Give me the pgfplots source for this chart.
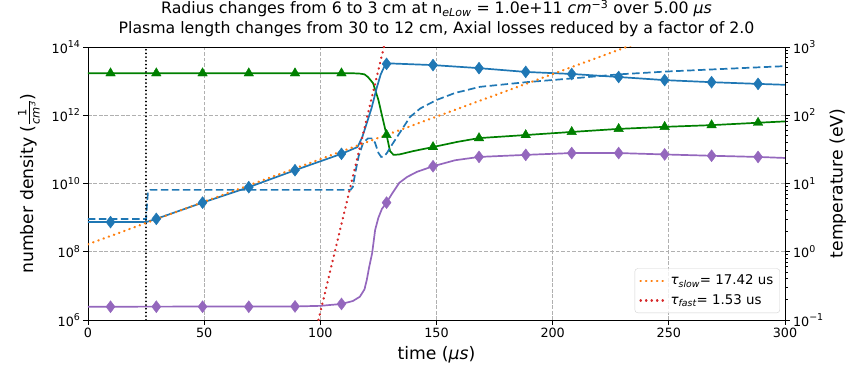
\documentclass[border=0pt]{standalone}
\usepackage{pgfplots}
\pgfplotsset{compat=1.18}
\usepackage{fontspec}
\setmainfont{DejaVu Sans}

\definecolor{tabblue}{HTML}{1F77B4}
\definecolor{taborange}{HTML}{FF7F0E}
\definecolor{tabred}{HTML}{D62728}
\definecolor{tabpurple}{HTML}{9467BD}
\definecolor{mplgreen}{HTML}{008000}
\definecolor{gridgray}{HTML}{B0B0B0}

% power-of-ten tick labels set in the text font
\newcommand{\tenpow}[1]{10\raisebox{0.8ex}{\fontsize{9.5}{9.5}\selectfont #1}}
\newcommand{\tickfont}{\fontsize{12.8}{15}\selectfont}
\newcommand{\labelfont}{\fontsize{17.3}{20}\selectfont}

\pgfplotsset{
  frame/.style={
    at={(0,0)}, anchor=south west, scale only axis,
    width=697bp, height=273bp, xmin=0, xmax=300,
    tick align=outside,
    major tick length=4.5bp, minor tick length=2.5bp,
    tick style={black, line width=0.9bp},
    axis line style={black, line width=0.9bp},
    ticklabel style={font=\tickfont},
  },
  solidline/.style={line width=1.7bp, solid},
  dashline/.style={line width=1.7bp, dash pattern=on 7.5bp off 3.5bp},
  dotline/.style={line width=2.3bp, line cap=round, dash pattern=on 0.4bp off 5.1bp},
}

\begin{document}
\begin{tikzpicture}[x=1bp,y=1bp]
\path[use as bounding box] (-88,-46) rectangle (758,320);

\begin{axis}[
  frame,
  ymode=log, ymin=1e6, ymax=1e14,
  xtick={0,50,100,150,200,250,300},
  xticklabels={0,50,100,150,200,250,300},
  ytick={1e6,1e8,1e10,1e12,1e14},
  yticklabels={\tenpow{6},\tenpow{8},\tenpow{10},\tenpow{12},\tenpow{14}},
  yminorticks=false,
  xtick pos=left, ytick pos=left,
  grid=major,
  major grid style={gridgray, line width=0.8bp, dash pattern=on 3.7bp off 1.8bp},
  xlabel={time ({\itshape μs})},
  ylabel={number density (\(\frac{\hbox{\fontsize{11.5}{11.5}\selectfont 1}}{\hbox{\fontsize{11.5}{11.5}\selectfont\itshape cm\textsuperscript{3}}}\))},
  every axis x label/.style={at={(axis description cs:0.5,-0.128)}, anchor=center, font=\labelfont},
  every axis y label/.style={at={(axis description cs:-0.0847,0.5)}, rotate=90, anchor=center, font=\labelfont},
  title={Radius changes from 6 to 3 cm at n\textsubscript{\itshape eLow} = 1.0e+11 {\itshape cm}\textsuperscript{−3} over 5.00 {\itshape μs}\\Plasma length changes from 30 to 12 cm, Axial losses reduced by a factor of 2.0},
  title style={font=\fontsize{15.8}{20}\selectfont, align=center,
    at={(axis description cs:0.5,1)}, anchor=south, yshift=1bp},
  legend style={at={(axis description cs:0.9928,0.0256)}, anchor=south east,
    draw=gray!35, rounded corners=3bp, fill=white, fill opacity=0.8, text opacity=1,
    font=\fontsize{13.4}{16}\selectfont, row sep=4.5bp, inner sep=4.5bp},
  legend cell align=left,
  legend image code/.code={\draw[#1] (0bp,0bp) -- (27bp,0bp);},
  clip=true,
]

% neutral density
\addplot[mplgreen, solidline, forget plot] coordinates {
  (0,1.7e13) (114,1.7e13) (117,1.66e13) (119,1.58e13) (120.5,1.32e13)
  (122.7,8.7e12) (125,2.8e12) (127,7.2e11) (128.5,2.65e11) (130,8.9e10)
  (131.5,6.9e10) (134,7.1e10) (140,8.9e10) (148.5,1.17e11) (159,1.66e11)
  (168.3,2.14e11) (188.4,2.63e11) (208.2,3.24e11) (228.4,3.98e11)
  (248.2,4.57e11) (268.4,5.13e11) (288.4,6.03e11) (300,6.6e11)
};
\addplot[only marks, mark=triangle*, mark size=5.5bp,
  mark options={solid, fill=mplgreen, draw=mplgreen}, forget plot] coordinates {
  (9.7,1.7e13) (29.4,1.7e13) (49.3,1.7e13) (69.2,1.7e13) (89.1,1.7e13)
  (109.1,1.7e13) (128.5,2.65e11) (148.5,1.17e11) (168.3,2.14e11)
  (188.4,2.63e11) (208.2,3.24e11) (228.4,3.98e11) (248.2,4.57e11)
  (268.4,5.13e11) (288.4,6.03e11)
};

% electron density
\addplot[tabblue, solidline, forget plot] coordinates {
  (0,7.4e8) (25,7.4e8) (29.4,9.2e8) (49.3,2.75e9) (69.2,7.8e9) (89.1,2.45e10)
  (109.1,7.4e10) (116,1.17e11) (118,2.24e11) (120,5.9e11) (122,1.58e12)
  (124.4,6.8e12) (126,1.58e13) (127.5,2.63e13) (128.5,3.2e13) (130,3.3e13)
  (148.5,2.95e13) (168.3,2.4e13) (188.4,1.86e13) (208.2,1.62e13)
  (228.4,1.32e13) (248.2,1.07e13) (268.4,9.3e12) (288.4,8.3e12) (300,7.8e12)
};
\addplot[only marks, mark=diamond*, mark size=6bp,
  mark options={solid, fill=tabblue, draw=tabblue}, forget plot] coordinates {
  (9.7,7.4e8) (29.4,9.2e8) (49.3,2.75e9) (69.2,7.8e9) (89.1,2.45e10)
  (109.1,7.4e10) (128.5,3.2e13) (148.5,2.95e13) (168.3,2.4e13)
  (188.4,1.86e13) (208.2,1.62e13) (228.4,1.32e13) (248.2,1.07e13)
  (268.4,9.3e12) (288.4,8.3e12)
};

% electron temperature (drawn in density units)
\addplot[tabblue, dashline, forget plot] coordinates {
  (0,9.1e8) (25,9.1e8) (25.3,2.0e9) (25.8,5.6e9) (26.8,6.5e9) (113,6.5e9)
  (114,7.9e9) (115,2.0e10) (116.5,6.3e10) (118.4,1.55e11) (120.5,2.1e11)
  (122,2.1e11) (123.5,1.6e11) (125,7.9e10) (126.2,6.0e10) (127.5,6.3e10)
  (128.7,7.9e10) (130.5,1.26e11) (133,2.3e11) (138.6,8.9e11) (143,1.58e12)
  (150,2.8e12) (158,4.5e12) (168.7,6.8e12) (188.5,9.3e12) (208.4,1.2e13)
  (228.6,1.58e13) (248.4,1.9e13) (268.6,2.2e13) (300,2.75e13)
};

% ion density
\addplot[tabpurple, solidline, forget plot] coordinates {
  (0,2.45e6) (90,2.5e6) (100,2.6e6) (109.1,2.95e6) (114,3.6e6) (117,4.8e6)
  (119,7.9e6) (120,1.5e7) (121,3.5e7) (122.3,9.1e7) (123.6,4.4e8) (125,1.0e9)
  (126.5,1.8e9) (128.5,2.75e9) (131,5.2e9) (134,1.05e10) (137.3,1.55e10)
  (141.6,2.2e10) (148.5,3.2e10) (158,4.8e10) (168.3,6.0e10) (188.4,6.9e10)
  (208.2,7.8e10) (228.4,7.8e10) (248.2,7.1e10) (268.4,6.5e10) (288.4,6.0e10)
  (300,5.6e10)
};
\addplot[only marks, mark=diamond*, mark size=6bp,
  mark options={solid, fill=tabpurple, draw=tabpurple}, forget plot] coordinates {
  (9.7,2.45e6) (29.4,2.45e6) (49.3,2.45e6) (69.2,2.45e6) (89.1,2.5e6)
  (109.1,2.95e6) (128.5,2.75e9) (148.5,3.2e10) (168.3,6.0e10)
  (188.4,6.9e10) (208.2,7.8e10) (228.4,7.8e10) (248.2,7.1e10)
  (268.4,6.5e10) (288.4,6.0e10)
};

% switching time
\addplot[black, line width=1.6bp, line cap=round, dash pattern=on 0.3bp off 3.4bp, forget plot]
  coordinates {(25,1e6) (25,1e14)};

% exponential fits
\addplot[taborange, dotline] coordinates {(0,1.66e8) (240,1.6e14)};
\addlegendentry{{\itshape τ}\textsubscript{\itshape slow}= 17.42 us}
\addplot[tabred, dotline] coordinates {(99.2,1e6) (128.5,2.1e14)};
\addlegendentry{{\itshape τ}\textsubscript{\itshape fast}= 1.53 us}
\end{axis}

\begin{axis}[
  frame,
  axis x line=none, axis y line*=right,
  ymode=log, ymin=0.1, ymax=1000,
  ytick={0.1,1,10,100,1000},
  yticklabels={\tenpow{−1},\tenpow{0},\tenpow{1},\tenpow{2},\tenpow{3}},
  minor ytick={0.2,0.3,0.4,0.5,0.6,0.7,0.8,0.9,2,3,4,5,6,7,8,9,20,30,40,50,60,70,80,90,200,300,400,500,600,700,800,900},
  ylabel={temperature (eV)},
  every axis y label/.style={at={(axis description cs:1.076,0.5)}, rotate=90, anchor=center, font=\labelfont},
]
\end{axis}
\end{tikzpicture}
\end{document}
